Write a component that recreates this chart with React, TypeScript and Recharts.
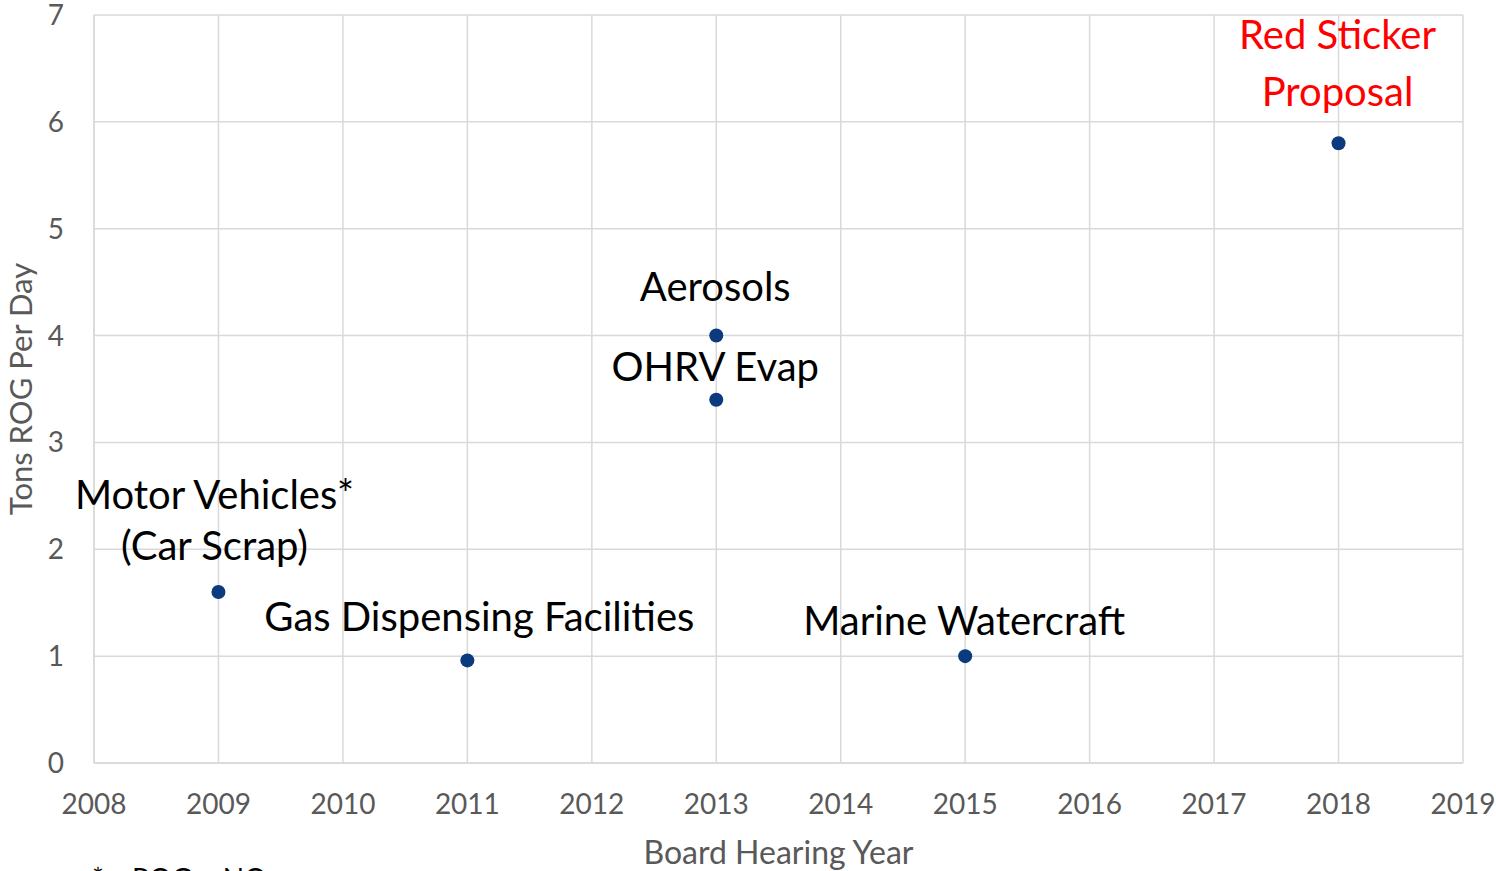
import React from "react";
import { ScatterChart, Scatter, XAxis, YAxis, CartesianGrid } from "recharts";

const years = [2009, 2011, 2013, 2013, 2015, 2018];
const tonsPerDay = [1.6, 0.96, 4.0, 3.4, 1.0, 5.8];
const pointLabels = [
  ["Motor Vehicles*", "(Car Scrap)"],
  ["Gas Dispensing Facilities"],
  ["Aerosols"],
  ["OHRV Evap"],
  ["Marine Watercraft"],
  ["Red Sticker", "Proposal"],
];
const xTicks = [2008, 2009, 2010, 2011, 2012, 2013, 2014, 2015, 2016, 2017, 2018, 2019];
const yTicks = [0, 1, 2, 3, 4, 5, 6, 7];

// label placement (pixel offsets from the point, per line)
const labelOffsets = [
  { dx: -4, dy: [-98, -47] },
  { dx: 12, dy: [-44] },
  { dx: -1, dy: [-50] },
  { dx: -1, dy: [-34] },
  { dx: -1, dy: [-36] },
  { dx: -1, dy: [-109, -52] },
];

const data = years.map((y, i) => ({ year: y, value: tonsPerDay[i], idx: i }));

const FONT = "Lato, 'Open Sans', sans-serif";

const PointShape = (props: any) => {
  const { cx, cy, payload } = props;
  const i = payload.idx;
  const off = labelOffsets[i];
  const color = i === 5 ? "#ff0000" : "#000000";
  return (
    <g>
      <circle cx={cx} cy={cy} r={7} fill="#0b3a7e" />
      {pointLabels[i].map((t, k) => (
        <text
          key={k}
          x={cx + off.dx}
          y={cy + off.dy[k]}
          textAnchor="middle"
          dominantBaseline="central"
          fontFamily={FONT}
          fontSize={40}
          fill={color}
        >
          {t}
        </text>
      ))}
    </g>
  );
};

export default function App() {
  return (
    <div
      style={{
        position: "fixed",
        top: 0,
        left: 0,
        width: 1496,
        height: 871,
        overflow: "hidden",
        background: "#fff",
      }}
    >
      <ScatterChart
        width={1496}
        height={900}
        margin={{ top: 15, right: 33, bottom: 77, left: 0 }}
      >
        <CartesianGrid stroke="#d9d9d9" strokeWidth={1.5} />
        <XAxis
          type="number"
          dataKey="year"
          domain={[2008, 2019]}
          ticks={xTicks}
          interval={0}
          height={60}
          axisLine={{ stroke: "#d9d9d9", strokeWidth: 1.5 }}
          tickLine={false}
          tickSize={0}
          tickMargin={31}
          tick={{ fill: "#595959", fontSize: 28, fontFamily: FONT }}
          label={{
            value: "Board Hearing Year",
            position: "insideBottom",
            offset: -41,
            fill: "#595959",
            fontSize: 32,
            fontFamily: FONT,
          }}
        />
        <YAxis
          type="number"
          dataKey="value"
          domain={[0, 7]}
          ticks={yTicks}
          interval={0}
          width={94}
          axisLine={{ stroke: "#d9d9d9", strokeWidth: 1.5 }}
          tickLine={false}
          tickSize={0}
          tickMargin={30}
          tick={{ fill: "#595959", fontSize: 28, fontFamily: FONT }}
          label={{
            value: "Tons ROG Per Day",
            angle: -90,
            position: "insideLeft",
            offset: 21,
            style: { textAnchor: "middle" },
            fill: "#595959",
            fontSize: 31,
            fontFamily: FONT,
          }}
        />
        <Scatter data={data} shape={PointShape} isAnimationActive={false} />
        <text y={889} fontFamily={FONT} fontSize={28} fill="#000">
          <tspan x={92}>*</tspan>
          <tspan x={132}>ROG + NO</tspan>
          <tspan dy={6} fontSize={18}>x</tspan>
        </text>
      </ScatterChart>
    </div>
  );
}
